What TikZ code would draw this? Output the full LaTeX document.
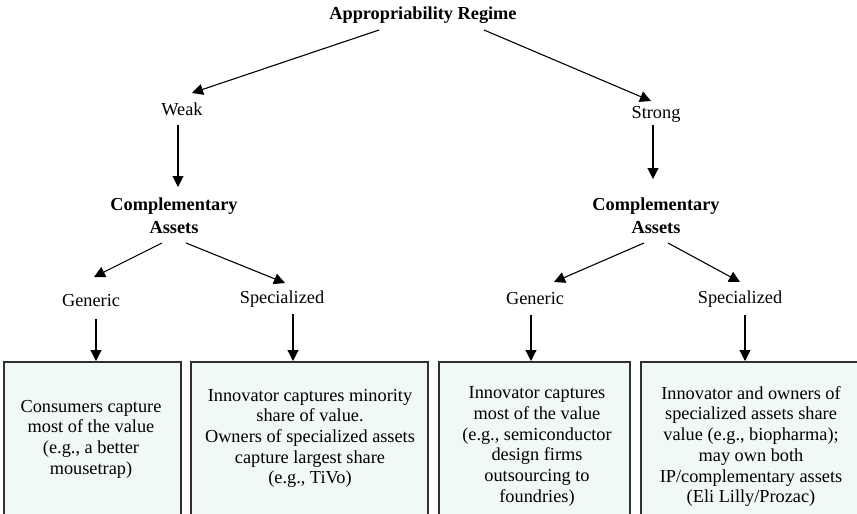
\documentclass[tikz,border=0pt]{standalone}
\usepackage{fontspec}
\setmainfont{Liberation Serif}
\usetikzlibrary{arrows.meta}
\definecolor{boxfill}{HTML}{F0F8F8}
\definecolor{boxline}{HTML}{303030}
\tikzset{
  lbl/.style={inner sep=0pt, font=\fontsize{18.3}{20.7}\selectfont, align=center},
  blbl/.style={lbl, font=\fontsize{18.3}{22.7}\selectfont\bfseries},
  arr/.style={-{Triangle[length=11pt,width=11pt]}, line width=1.1pt, black},
  outbox/.style={draw=boxline, line width=1.6pt, fill=boxfill, inner sep=0pt, anchor=north, minimum height=172pt},
}
\begin{document}
\begin{tikzpicture}[x=1pt,y=-1pt]
\useasboundingbox (0,0) rectangle (857,514);
\clip (0,0) rectangle (857,514);
% nodes
\node[blbl] (title) at (423,15) {Appropriability Regime};
\node[lbl] (weak) at (182,109) {Weak};
\node[lbl] (strong) at (656,114) {Strong};
\node[blbl] (caL) at (174,215.5) {Complementary\\Assets};
\node[blbl] (caR) at (656,215.5) {Complementary\\Assets};
\node[lbl] (genL) at (91,301) {Generic};
\node[lbl] (specL) at (282,299) {Specialized};
\node[lbl] (genR) at (535,299) {Generic};
\node[lbl] (specR) at (740,299) {Specialized};
% boxes
\node[outbox, minimum width=177pt] (box1) at (92.5,361) {};
\node[outbox, minimum width=237pt] (box2) at (309.5,361) {};
\node[outbox, minimum width=191pt] (box3) at (534.5,361) {};
\node[outbox, minimum width=220pt] (box4) at (751,361) {};
\node[lbl] (t1) at (91,439) {Consumers capture\\most of the value\\(e.g., a better\\mousetrap)};
\node[lbl] (t2) at (310,438.5) {Innovator captures minority\\share of value.\\Owners of specialized assets\\capture largest share\\(e.g., TiVo)};
\node[lbl] (t3) at (537,446.5) {Innovator captures\\most of the value\\(e.g., semiconductor\\design firms\\outsourcing to\\foundries)};
\node[lbl] (t4) at (751,446.5) {Innovator and owners of\\specialized assets share\\value (e.g., biopharma);\\may own both\\IP/complementary assets\\(Eli Lilly/Prozac)};
% connectors
\draw[arr] ([shift={(-44,15)}]title.center) -- ([shift={(10,-16)}]weak.center);
\draw[arr] ([shift={(61,15)}]title.center) -- ([shift={(-5,-13)}]strong.center);
\draw[arr] ([shift={(-4,16)}]weak.center) -- ([shift={(4,-28.5)}]caL.center);
\draw[arr] ([shift={(-3,11)}]strong.center) -- ([shift={(-3,-36.5)}]caR.center);
\draw[arr] ([shift={(-12,27.5)}]caL.center) -- ([shift={(3,-24)}]genL.center);
\draw[arr] ([shift={(12,27.5)}]caL.center) -- ([shift={(3,-16)}]specL.center);
\draw[arr] ([shift={(-12,27.5)}]caR.center) -- ([shift={(19,-17)}]genR.center);
\draw[arr] ([shift={(12,27.5)}]caR.center) -- ([shift={(0,-17)}]specR.center);
\draw[arr] ([shift={(5,18)}]genL.center) -- ([shift={(3.5,0)}]box1.north);
\draw[arr] ([shift={(11,15)}]specL.center) -- ([shift={(-16.5,0)}]box2.north);
\draw[arr] ([shift={(-4,16)}]genR.center) -- ([shift={(-3.5,0)}]box3.north);
\draw[arr] ([shift={(5,16)}]specR.center) -- ([shift={(-6,0)}]box4.north);
\end{tikzpicture}
\end{document}
